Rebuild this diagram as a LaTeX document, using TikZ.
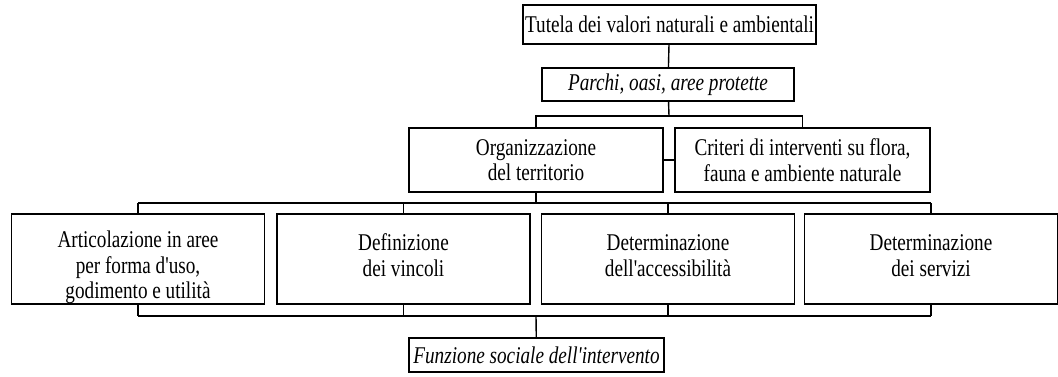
\documentclass[tikz,border=0pt]{standalone}
\usepackage{fontspec}
\setmainfont{Liberation Serif}[Ligatures=TeXOff,FakeStretch=0.8]
\newcommand\topgap{\rule{0pt}{34pt}}

\begin{document}
\begin{tikzpicture}[x=1pt,y=-1pt,line width=1.4pt,
                box/.style={draw,rectangle,inner sep=0pt,align=center,
                  font=\fontsize{24}{25.5}\selectfont},
                wide box/.style={box,minimum width=253pt,minimum height=90pt}]

  \useasboundingbox (0,0) rectangle (1058,376);

  \node[box,minimum width=293pt,minimum height=39pt] (tutela) at (669.5,24.5)
    {Tutela dei valori naturali e ambientali};
  \node[box,minimum width=252pt,minimum height=33pt] (parchi) at (668,84.5)
    {\itshape Parchi, oasi, aree protette};
  \node[box,minimum width=254pt,minimum height=64pt] (org) at (536,160)
    {Organizzazione\\del territorio};
  \node[box,minimum width=255pt,minimum height=64pt] (crit) at (802.5,160)
    {Criteri di interventi su flora,\\fauna e ambiente naturale};

  \node[wide box] (a1) at (138,259)   {\topgap Articolazione in aree\\per forma d'uso,\\godimento e utilità};
  \node[wide box] (a2) at (403.5,259) {\topgap Definizione\\dei vincoli\\~};
  \node[wide box] (a3) at (668,259)   {\topgap Determinazione\\dell'accessibilità\\~};
  \node[wide box] (a4) at (931,259)   {\topgap Determinazione\\dei servizi\\~};

  \node[box,minimum width=255pt,minimum height=34pt] (funz) at (536.5,355)
    {\itshape Funzione sociale dell'intervento};

  \coordinate (j1) at (669,116);
  \coordinate (j2) at (536,203);
  \coordinate (j3) at (536,316);

  \draw (tutela) -- (parchi);
  \draw (parchi) -- (j1);
  \draw (org.north) |- (j1) -| (crit.north);
  \draw (org) -- (crit);

  \draw (org) -- (j2);
  \draw (a1.north |- j2) -- (a4.north |- j2);
  \draw (a1.south |- j3) -- (a4.south |- j3);
  \foreach \n in {a1,a2,a3,a4} {
    \draw (\n.north) -- (\n.north |- j2);
    \draw (\n.south) -- (\n.south |- j3);
  }
  \draw (j3) -- (funz);
\end{tikzpicture}
\end{document}
